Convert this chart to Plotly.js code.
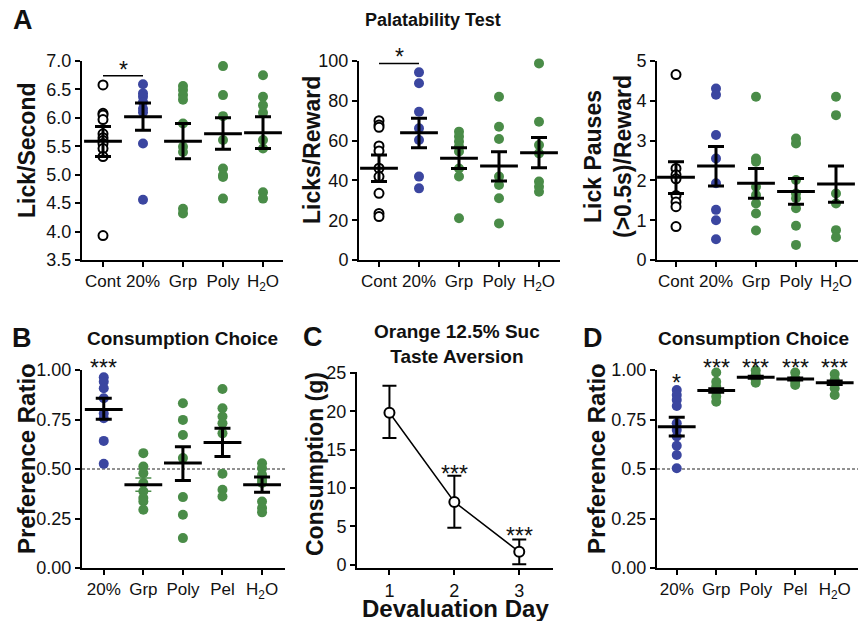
<!DOCTYPE html>
<html>
<head>
<meta charset="utf-8">
<script src="https://cdn.plot.ly/plotly-3.0.1.min.js"></script>
<style>html,body{margin:0;padding:0;background:#fff}#chart{width:858px;height:621px}</style>
</head>
<body>
<div id="chart"></div>
<script>
// ---------- categories ----------
const catsA = ['Cont', '20%', 'Grp', 'Poly', 'H<sub>2</sub>O'];
const catsBD = ['20%', 'Grp', 'Poly', 'Pel', 'H<sub>2</sub>O'];
const days = [1, 2, 3];

// ---------- Panel A1: Lick/Second ----------
const lickSecCont = [6.58, 6.08, 6.05, 5.97, 5.72, 5.65, 5.6, 5.55, 5.46, 5.32, 3.93];
const lickSec20 = [6.59, 6.43, 6.37, 6.28, 6.16, 6.1, 5.55, 4.56];
const lickSecGrp = [6.56, 6.49, 6.4, 6.32, 5.9, 5.49, 5.4, 4.4, 4.32];
const lickSecPoly = [6.91, 6.4, 6.03, 5.61, 5.11, 4.99, 4.96, 4.58];
const lickSecH2O = [6.75, 6.37, 6.22, 6.09, 5.61, 5.46, 4.69, 4.58];
const lickSecMean = [5.59, 6.02, 5.59, 5.72, 5.74];
const lickSecHi = [5.85, 6.26, 5.9, 6.0, 6.02];
const lickSecLo = [5.32, 5.78, 5.28, 5.45, 5.46];

// ---------- Panel A2: Licks/Reward ----------
const lrCont = [70.0, 67.8, 66.7, 57.3, 54.8, 46.1, 41.9, 33.5, 23.4, 21.8];
const lr20 = [94.3, 88.8, 74.5, 66.2, 60.3, 41.9, 36.0];
const lrGrp = [64.5, 62, 59.5, 57, 54.5, 46, 42, 21];
const lrPoly = [82, 67, 60.8, 42, 37.7, 31, 18.4];
const lrH2O = [98.8, 69.5, 57.8, 53.6, 39.4, 36.8, 34.3];
const lrMean = [46.1, 64, 51.1, 47.2, 53.9];
const lrHi = [52.8, 71.2, 56.4, 54.4, 61.5];
const lrLo = [39.4, 56.4, 46, 39.7, 46.4];

// ---------- Panel A3: Lick Pauses/Reward ----------
const lpCont = [4.66, 2.3, 2.14, 2.04, 1.62, 1.46, 1.34, 0.84];
const lp20 = [4.31, 4.15, 3.14, 2.55, 1.93, 1.26, 1.0, 0.52];
const lpGrp = [4.1, 2.55, 2.47, 1.84, 1.63, 1.42, 1.17, 0.74];
const lpPoly = [3.05, 2.93, 2.01, 1.67, 1.55, 1.3, 0.86, 0.38];
const lpH2O = [4.1, 3.64, 1.67, 1.42, 0.75, 0.57];
const lpMean = [2.08, 2.36, 1.93, 1.72, 1.91];
const lpHi = [2.47, 2.85, 2.3, 2.05, 2.36];
const lpLo = [1.67, 1.86, 1.55, 1.4, 1.45];

// ---------- Panel B: Consumption Choice ----------
const pbP20 = [0.963, 0.941, 0.908, 0.857, 0.78, 0.756, 0.642, 0.526];
const pbGrp = [0.58, 0.513, 0.479, 0.429, 0.387, 0.353, 0.336, 0.294];
const pbPoly = [0.832, 0.748, 0.672, 0.555, 0.358, 0.269, 0.151];
const pbPel = [0.904, 0.807, 0.765, 0.731, 0.68, 0.476, 0.395, 0.361];
const pbH2O = [0.529, 0.504, 0.471, 0.445, 0.429, 0.336, 0.303, 0.281];
const pbMean = [0.80, 0.42, 0.53, 0.634, 0.42];
const pbHi = [0.857, 0.454, 0.613, 0.706, 0.459];
const pbLo = [0.751, 0.387, 0.442, 0.563, 0.382];

// ---------- Panel C: Taste Aversion ----------
const consMean = [19.8, 8.2, 1.7];
const consHi = [23.3, 11.6, 3.3];
const consLo = [16.5, 4.85, 0.09];

// ---------- Panel D: Consumption Choice ----------
const pdP20 = [0.899, 0.874, 0.849, 0.818, 0.731, 0.697, 0.664, 0.617, 0.571, 0.504];
const pdGrp = [0.987, 0.941, 0.916, 0.89, 0.866, 0.84];
const pdPoly = [0.997, 0.975, 0.963, 0.95, 0.936];
const pdPel = [0.987, 0.958, 0.941, 0.924];
const pdH2O = [0.98, 0.95, 0.93, 0.908, 0.874];
const pdMean = [0.714, 0.896, 0.963, 0.955, 0.936];
const pdHi = [0.761, 0.905, 0.968, 0.96, 0.945];
const pdLo = [0.667, 0.887, 0.958, 0.95, 0.927];

// ---------- significance ----------
const starsA1 = [{x: 0.5, y: 6.74, t: '*', s: -9}];
const starsA2 = [{x: 0.5, y: 98.8, t: '*', s: -9}];
const starsB = [{x: 0, y: 1.0, t: '***', s: 2}];
const starsC = [{x: 2, y: 11.8, t: '***', s: 0}, {x: 3, y: 3.7, t: '***', s: 0}];
const starsD = [{x: 0, y: 0.935, t: '*', s: 0}, {x: 1, y: 1.0, t: '***', s: 2}, {x: 2, y: 1.0, t: '***', s: 2},
  {x: 3, y: 1.0, t: '***', s: 2}, {x: 4, y: 1.0, t: '***', s: 2}];

const BLUE = '#3b46a0';
const GREEN = '#4a8c48';
const FONT = 'Liberation Sans, Arial, Helvetica, sans-serif';

const traces = [];
function dotPanel(ax, cats, groups, kinds, mean, hi, lo, errColors, errThick) {
  groups.forEach((vals, i) => {
    const k = kinds[i];
    traces.push({
      type: 'scatter', mode: 'markers', xaxis: 'x' + ax, yaxis: 'y' + ax,
      x: vals.map(() => cats[i]), y: vals, cliponaxis: false, hoverinfo: 'skip',
      marker: k === 'open'
        ? {symbol: 'circle', size: 9, color: 'white', line: {color: 'black', width: 2}}
        : {symbol: 'circle', size: 10, color: k === 'blue' ? BLUE : GREEN, line: {width: 0}}
    });
  });
  cats.forEach((c, i) => {
    traces.push({
      type: 'scatter', mode: 'markers', xaxis: 'x' + ax, yaxis: 'y' + ax,
      x: [c], y: [mean[i]], cliponaxis: false, hoverinfo: 'skip',
      marker: {symbol: 'line-ew', size: 27, line: {color: 'black', width: 3}},
      error_y: {type: 'data', symmetric: false, array: [hi[i] - mean[i]], arrayminus: [mean[i] - lo[i]],
        color: errColors ? errColors[i] : 'black', thickness: errThick ? errThick[i] : 3, width: 8}
    });
  });
}

dotPanel('', catsA, [lickSecCont, lickSec20, lickSecGrp, lickSecPoly, lickSecH2O],
  ['open', 'blue', 'green', 'green', 'green'], lickSecMean, lickSecHi, lickSecLo);
dotPanel('2', catsA, [lrCont, lr20, lrGrp, lrPoly, lrH2O],
  ['open', 'blue', 'green', 'green', 'green'], lrMean, lrHi, lrLo);
dotPanel('3', catsA, [lpCont, lp20, lpGrp, lpPoly, lpH2O],
  ['open', 'blue', 'green', 'green', 'green'], lpMean, lpHi, lpLo);
dotPanel('4', catsBD, [pbP20, pbGrp, pbPoly, pbPel, pbH2O],
  ['blue', 'green', 'green', 'green', 'green'], pbMean, pbHi, pbLo,
  ['black', GREEN, 'black', 'black', 'black'], [3, 1.5, 3, 3, 3]);
dotPanel('6', catsBD, [pdP20, pdGrp, pdPoly, pdPel, pdH2O],
  ['blue', 'green', 'green', 'green', 'green'], pdMean, pdHi, pdLo);

traces.push({
  type: 'scatter', mode: 'lines+markers', xaxis: 'x5', yaxis: 'y5',
  x: days, y: consMean, cliponaxis: false, hoverinfo: 'skip',
  line: {color: 'black', width: 1.5},
  marker: {symbol: 'circle', size: 10, color: 'white', line: {color: 'black', width: 2}},
  error_y: {type: 'data', symmetric: false,
    array: consHi.map((v, i) => v - consMean[i]), arrayminus: consLo.map((v, i) => consMean[i] - v),
    color: 'black', thickness: 2, width: 7}
});

const W = 858, H = 621;
const px = v => v / W, py = v => 1 - v / H;

function axBase(extra, fs) {
  return Object.assign({
    showline: true, linecolor: 'black', linewidth: 2, mirror: false,
    ticks: 'outside', ticklen: 5, tickwidth: 2, tickcolor: 'black',
    showgrid: false, zeroline: false, fixedrange: true, tickangle: 0,
    tickfont: {family: FONT, size: fs || 18, color: '#111'}
  }, extra);
}
function catAx(cats, dom, range, anchor) {
  return axBase({type: 'category', categoryorder: 'array', categoryarray: cats,
    domain: dom, range: range, anchor: anchor}, 17);
}

const topDom = [py(260), py(61)];
const botDom = [py(568), py(370)];

const layout = {
  width: W, height: H, showlegend: false,
  margin: {l: 0, r: 0, t: 0, b: 0},
  paper_bgcolor: 'white', plot_bgcolor: 'white',
  font: {family: FONT, color: '#111'},
  xaxis: catAx(catsA, [px(82), px(283)], [-0.525, 4.5], 'y'),
  yaxis: axBase({domain: topDom, range: [3.5, 7.0], dtick: 0.5, tickformat: '.1f', anchor: 'x'}),
  xaxis2: catAx(catsA, [px(359), px(560)], [-0.5, 4.525], 'y2'),
  yaxis2: axBase({domain: topDom, range: [0, 100], dtick: 20, anchor: 'x2'}),
  xaxis3: catAx(catsA, [px(657), 1], [-0.475, 4.55], 'y3'),
  yaxis3: axBase({domain: topDom, range: [0, 5], dtick: 1, anchor: 'x3'}),
  xaxis4: catAx(catsBD, [px(82), px(285)], [-0.55, 4.58], 'y4'),
  yaxis4: axBase({domain: botDom, range: [0, 1], tickvals: [0, 0.25, 0.5, 0.75, 1],
    ticktext: ['0.00', '0.25', '0.50', '0.75', '1.00'], anchor: 'x4'}),
  xaxis5: axBase({domain: [px(357), px(553)], range: [0.5, 3.52], tickvals: days, anchor: 'y5'}),
  yaxis5: axBase({domain: [py(568), py(372)], range: [-0.4, 25.1], dtick: 5, anchor: 'x5'}),
  xaxis6: catAx(catsBD, [px(657), 1], [-0.5, 4.59], 'y6'),
  yaxis6: axBase({domain: botDom, range: [0, 1], tickvals: [0, 0.25, 0.5, 0.75, 1],
    ticktext: ['0.00', '0.25', '0.5', '0.75', '1.00'], anchor: 'x6'}),
  shapes: [
    {type: 'line', xref: 'x', yref: 'y', x0: 0, x1: 1, y0: starsA1[0].y, y1: starsA1[0].y, line: {color: 'black', width: 1.5}},
    {type: 'line', xref: 'x2', yref: 'y2', x0: 0, x1: 1, y0: starsA2[0].y, y1: starsA2[0].y, line: {color: 'black', width: 1.5}},
    {type: 'line', xref: 'x4 domain', yref: 'y4', x0: 0, x1: 1, y0: 0.5, y1: 0.5, line: {color: '#222', width: 1, dash: '3px,2px'}, layer: 'below'},
    {type: 'line', xref: 'x6 domain', yref: 'y6', x0: 0, x1: 1, y0: 0.5, y1: 0.5, line: {color: '#222', width: 1, dash: '3px,2px'}, layer: 'below'}
  ],
  annotations: []
};

const ann = layout.annotations;
function txt(x, y, text, size, opts) {
  ann.push(Object.assign({xref: 'paper', yref: 'paper', x: px(x), y: py(y), text: text, showarrow: false,
    xanchor: 'center', yanchor: 'middle', font: {family: FONT, size: size, color: '#111'}}, opts || {}));
}
// panel letters
txt(23, 20, '<b>A</b>', 27);
txt(22, 338, '<b>B</b>', 27);
txt(313, 337, '<b>C</b>', 27);
txt(593, 338, '<b>D</b>', 27);
// titles
txt(433, 20, '<b>Palatability Test</b>', 18);
txt(182, 338, '<b>Consumption Choice</b>', 19);
txt(457, 344, '<b>Orange 12.5% Suc<br>Taste Aversion</b>', 19);
txt(753, 338, '<b>Consumption Choice</b>', 19);
// axis titles
txt(27, 151, '<b>Lick/Second</b>', 23, {textangle: -90});
txt(312, 150, '<b>Licks/Reward</b>', 23, {textangle: -90});
txt(608, 157, '<b>Lick Pauses<br>(&gt;0.5s)/Reward</b>', 23, {textangle: -90});
txt(27, 459, '<b>Preference Ratio</b>', 24, {textangle: -90});
txt(315, 464, '<b>Consumption (g)</b>', 23, {textangle: -90});
txt(597, 459, '<b>Preference Ratio</b>', 24, {textangle: -90});
txt(455, 608, '<b>Devaluation Day</b>', 24);

function stars(list, ax) {
  list.forEach(s => ann.push({xref: 'x' + ax, yref: 'y' + ax, x: s.x, y: s.y, text: s.t, showarrow: false,
    xanchor: 'center', yanchor: s.s < 0 ? 'bottom' : 'middle', yshift: s.s,
    font: {family: FONT, size: 23, color: '#111'}}));
}
stars(starsA1, '');
stars(starsA2, '2');
stars(starsB, '4');
stars(starsC, '5');
stars(starsD, '6');

Plotly.newPlot('chart', traces, layout, {displayModeBar: false, staticPlot: true});
</script>
</body>
</html>
